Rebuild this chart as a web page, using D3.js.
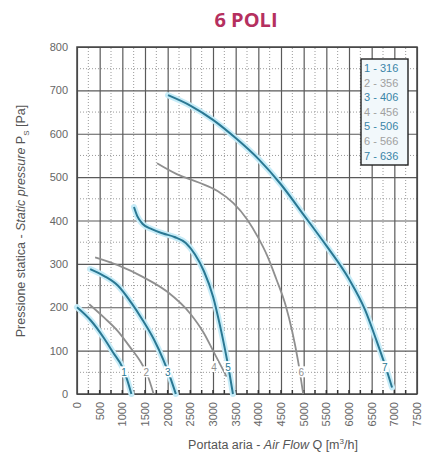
<!DOCTYPE html>
<html><head><meta charset="utf-8">
<script src="https://cdn.jsdelivr.net/npm/d3@7"></script>
<style>body{margin:0;background:#fff;}svg{display:block;font-family:"Liberation Sans",Arial,sans-serif;}</style>
</head><body>
<svg id="c" width="427" height="454"></svg>
<script>
const title = "6 POLI";
const xTicks = [0,500,1000,1500,2000,2500,3000,3500,4000,4500,5000,5500,6000,6500,7000,7500];
const yTicks = [0,100,200,300,400,500,600,700,800];
const seriesNames = ["1 - 316","2 - 356","3 - 406","4 - 456","5 - 506","6 - 566","7 - 636"];
const seriesKind = ["blue","gray","blue","gray","blue","gray","blue"];
// curves: airflow Q [m3/h] and static pressure [Pa]
const q1 = [0,300,600,800,1000,1100,1200];
const p1 = [200,170,128,95,62,35,0];
const q2 = [270,600,900,1170,1400,1550,1690];
const p2 = [207,176,145,108,75,45,0];
const q3 = [290,600,900,1200,1450,1700,1900,2050,2180];
const p3 = [288,272,250,210,170,125,80,40,0];
const q4 = [400,900,1450,2000,2500,2800,3000,3150,3300];
const p4 = [315,297,270,235,185,140,100,70,40];
const q5 = [1257,1330,1450,1650,1900,2150,2400,2600,2800,3000,3150,3270,3360,3440];
const p5 = [431,410,392,380,370,362,348,322,283,225,160,100,50,0];
const q6 = [1765,2200,2700,3100,3450,3750,4000,4200,4400,4600,4750,4870,4990];
const p6 = [532,507,487,468,440,403,360,318,264,205,143,80,0];
const q7 = [2007,2500,3000,3500,4000,4500,5000,5500,6000,6350,6600,6800,6950];
const p7 = [689,665,632,590,542,483,413,342,265,195,125,65,15];
const curveQ = [q1,q2,q3,q4,q5,q6,q7];
const curveP = [p1,p2,p3,p4,p5,p6,p7];
const labelQ = [1040,1530,2000,3020,3330,4950,6790];
const labelP = [50,50,50,62,62,50,62];

const svg = d3.select("#c");
const W = {l:77, r:417, t:47, b:394};
const x = d3.scaleLinear().domain([0,7500]).range([W.l,W.r]);
const y = d3.scaleLinear().domain([0,800]).range([W.b,W.t]);
const blue = "#2a7893", halo = "#c6ecf8", gray = "#8f8f8f";

// title
svg.append("text").attr("x",246).attr("y",27).attr("text-anchor","middle")
  .attr("font-family","'Open Sans',sans-serif").attr("font-weight","bold").attr("font-size",20)
  .attr("fill","#b5305f").text(title);

const g = svg.append("g");
// minor dotted grid
d3.range(250,7500,500).forEach(v=>g.append("line").attr("x1",x(v)).attr("x2",x(v)).attr("y1",y(0)).attr("y2",y(800))
  .attr("stroke","#9a9a9a").attr("stroke-width",1).attr("stroke-dasharray","1,2"));
d3.range(50,800,100).forEach(v=>g.append("line").attr("y1",y(v)).attr("y2",y(v)).attr("x1",x(0)).attr("x2",x(7500))
  .attr("stroke","#9a9a9a").attr("stroke-width",1).attr("stroke-dasharray","1,2"));
// major grid
const xAxisG = g.append("g").attr("transform",`translate(0,${W.b})`)
  .call(d3.axisBottom(x).tickValues(xTicks).tickSize(-(W.b-W.t)).tickFormat(""));
xAxisG.select(".domain").remove();
xAxisG.selectAll("line").attr("stroke","#5a5a5a").attr("stroke-width",1.2);
const yAxisG = g.append("g").attr("transform",`translate(${W.l},0)`)
  .call(d3.axisLeft(y).tickValues(yTicks).tickSize(-(W.r-W.l)).tickFormat(""));
yAxisG.select(".domain").remove();
yAxisG.selectAll("line").attr("stroke","#5a5a5a").attr("stroke-width",1.2);
// small bottom ticks
d3.range(250,7500,250).forEach(v=>g.append("line").attr("x1",x(v)).attr("x2",x(v)).attr("y1",y(0)).attr("y2",y(0)-4)
  .attr("stroke","#333").attr("stroke-width",1.5));
// frame
g.append("rect").attr("x",W.l).attr("y",W.t).attr("width",W.r-W.l).attr("height",W.b-W.t)
  .attr("fill","none").attr("stroke","#444").attr("stroke-width",1.5);

// tick labels
g.selectAll(".yl").data(yTicks).enter().append("text").attr("x",W.l-9).attr("y",d=>y(d)+4)
  .attr("text-anchor","end").attr("font-size",11).attr("fill","#666").text(d=>d);
g.selectAll(".xl").data(xTicks).enter().append("text")
  .attr("transform",d=>`translate(${x(d)+4},${W.b+8}) rotate(-90)`)
  .attr("text-anchor","end").attr("font-size",11).attr("fill","#666").text(d=>d);

// axis titles
const xt = svg.append("text").attr("x",273).attr("y",449).attr("text-anchor","middle").attr("font-size",12.5).attr("fill","#555");
xt.append("tspan").text("Portata aria - ");
xt.append("tspan").attr("font-style","italic").text("Air Flow ");
xt.append("tspan").text("Q [m");
xt.append("tspan").attr("font-size",8).attr("dy",-5).text("3");
xt.append("tspan").attr("dy",5).text("/h]");
const yt = svg.append("text").attr("transform","translate(25,221) rotate(-90)").attr("text-anchor","middle").attr("font-size",12.5).attr("fill","#555");
yt.append("tspan").text("Pressione statica - ");
yt.append("tspan").attr("font-style","italic").text("Static pressure ");
yt.append("tspan").text("P");
yt.append("tspan").attr("font-size",8).attr("dy",4).text("S");
yt.append("tspan").attr("dy",-4).text(" [Pa]");

// curves
const line = d3.line().x(d=>x(d[0])).y(d=>y(d[1])).curve(d3.curveMonotoneX);
const cg = svg.append("g");
curveQ.forEach((qs,i)=>{
  const pts = qs.map((q,j)=>[q,curveP[i][j]]);
  if(seriesKind[i]==="blue"){
    cg.append("path").attr("d",line(pts)).attr("fill","none").attr("stroke",halo).attr("stroke-width",6).attr("stroke-linecap","round");
    cg.append("path").attr("d",line(pts)).attr("fill","none").attr("stroke",blue).attr("stroke-width",2);
  } else {
    cg.append("path").attr("d",line(pts)).attr("fill","none").attr("stroke",gray).attr("stroke-width",1.8);
  }
});
// curve labels
labelQ.forEach((q,i)=>{
  const col = seriesKind[i]==="blue"?blue:gray;
  cg.append("rect").attr("x",x(q)-4).attr("y",y(labelP[i])-6).attr("width",8).attr("height",11).attr("fill","#fff");
  cg.append("text").attr("x",x(q)).attr("y",y(labelP[i])+4).attr("text-anchor","middle")
    .attr("font-size",10).attr("fill",col).text(i+1);
});

// legend
const lg = svg.append("g");
lg.append("rect").attr("x",361).attr("y",59).attr("width",47).attr("height",106)
  .attr("fill","#f2f8fb").attr("stroke","#222").attr("stroke-width",1.4);
seriesNames.forEach((n,i)=>{
  lg.append("text").attr("x",364).attr("y",72+i*14.6).attr("font-size",11)
    .attr("fill",seriesKind[i]==="blue"?"#3a85a8":"#a0a0a0").text(n);
});
</script>
</body></html>
